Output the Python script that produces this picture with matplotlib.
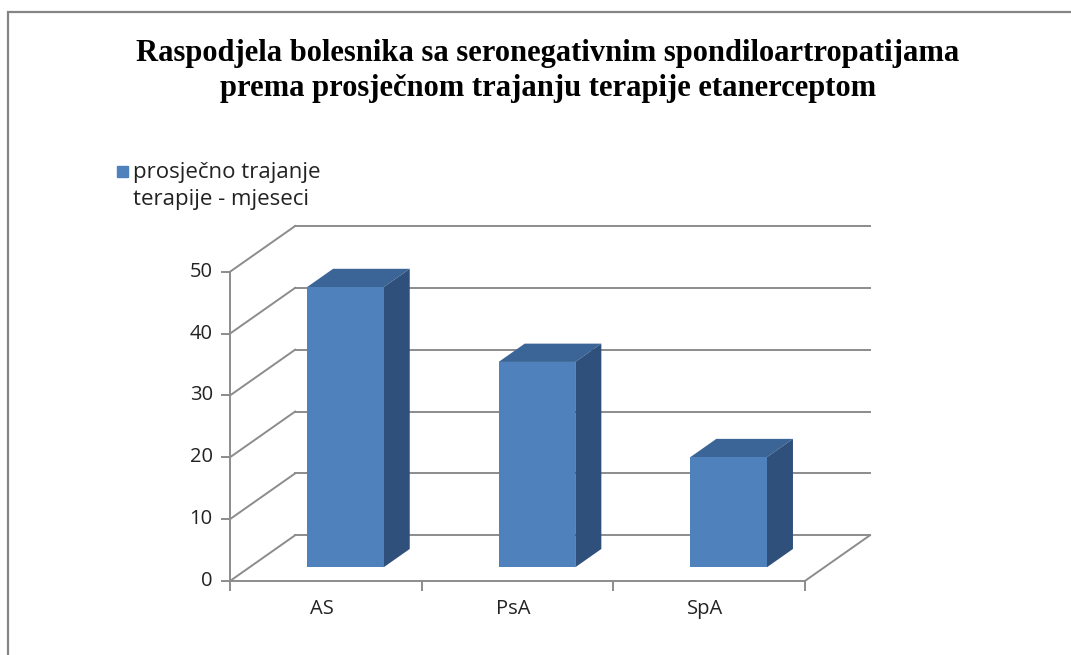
import matplotlib.pyplot as plt
from matplotlib.patches import Polygon, Rectangle

categories = ["AS", "PsA", "SpA"]
months = [45.3, 33.2, 17.8]
y_ticks = [0, 10, 20, 30, 40, 50]
title = ("Raspodjela bolesnika sa seronegativnim spondiloartropatijama\n"
         "prema prosječnom trajanju terapije etanerceptom")
legend_label = "prosječno trajanje\nterapije - mjeseci"

# oblique "3d" offset in data units (categories, values)
DX, DY = 0.34, 7.4
BAR_W = 0.4
D_FRONT, D_BACK = 0.3, 0.7

FRONT = "#4f81bd"
TOP = "#3a6596"
SIDE = "#30507c"
GRID = "#8c8c8c"

fig = plt.figure(figsize=(10.71, 6.55), dpi=100)
W, H = 1071, 655
ax = fig.add_axes([230 / W, 1 - 581 / H, 640 / W, 355 / H])
n = len(categories)
ymax = y_ticks[-1]
ax.set_xlim(0, n + DX)
ax.set_ylim(0, ymax + DY)
ax.axis("off")

# left wall diagonals + back wall gridlines
for v in y_ticks:
    ax.plot([0, DX], [v, v + DY], color=GRID, lw=1.4, clip_on=False)
    ax.plot([DX, n + DX], [v + DY, v + DY], color=GRID, lw=1.4, clip_on=False)

# floor right edge + front axes
ax.plot([n, n + DX], [0, DY], color=GRID, lw=1.4, clip_on=False)
ax.plot([0, n], [0, 0], color=GRID, lw=1.4, clip_on=False)
ax.plot([0, 0], [0, ymax], color=GRID, lw=1.4, clip_on=False)
for i in range(n + 1):
    ax.plot([i, i], [0, -1.5], color=GRID, lw=1.4, clip_on=False)
for v in y_ticks:
    ax.plot([0, -0.04], [v, v], color=GRID, lw=1.4, clip_on=False)
    ax.text(-0.09, v, str(v), ha="right", va="center", fontsize=14.5,
            family=["Open Sans", "DejaVu Sans"], color="#222222")

# bars
xs = [i + 0.5 for i in range(n)]
for x, v in zip(xs, months):
    x0 = x - BAR_W / 2 + D_FRONT * DX
    x1 = x0 + BAR_W
    y0 = D_FRONT * DY
    ddx = (D_BACK - D_FRONT) * DX
    ddy = (D_BACK - D_FRONT) * DY
    top = [(x0, y0 + v), (x1, y0 + v), (x1 + ddx, y0 + v + ddy), (x0 + ddx, y0 + v + ddy)]
    side = [(x1, y0), (x1 + ddx, y0 + ddy), (x1 + ddx, y0 + v + ddy), (x1, y0 + v)]
    ax.add_patch(Polygon(top, closed=True, facecolor=TOP, edgecolor="none", zorder=3))
    ax.add_patch(Polygon(side, closed=True, facecolor=SIDE, edgecolor="none", zorder=3))
ax.bar([x + D_FRONT * DX for x in xs], months, width=BAR_W, bottom=D_FRONT * DY,
       color=FRONT, zorder=4)

for x, c in zip(xs, categories):
    ax.text(x - 0.02, -4.5, c, ha="center", va="center", fontsize=14.5,
            family=["Open Sans", "DejaVu Sans"], color="#222222")

# legend
fig.patches.append(Rectangle((117 / W, 1 - 177 / H), 11 / W, 11 / H,
                             transform=fig.transFigure, color=FRONT))
fig.text(133 / W, 1 - 186 / H, legend_label, ha="left", va="center", fontsize=16,
         family=["Liberation Sans Narrow", "Open Sans", "DejaVu Sans"], color="#222222",
         linespacing=1.35)

fig.text(548 / W, 1 - 71 / H, title, ha="center", va="center", fontsize=22,
         fontweight="bold", family=["Liberation Serif", "DejaVu Serif"],
         linespacing=1.3)

# chart frame (continues past the right and bottom edges)
fig.patches.append(Rectangle((8 / W, -0.05), 1.1, 1 - 12 / H + 0.05,
                             transform=fig.transFigure, fill=False,
                             edgecolor="#858585", lw=1.6))

fig.savefig("out.png", dpi=100)
